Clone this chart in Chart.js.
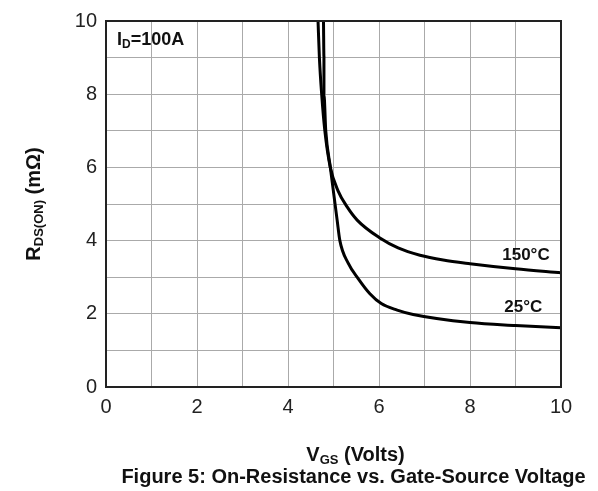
<!DOCTYPE html>
<html>
<head>
<meta charset="utf-8">
<title>On-Resistance vs. Gate-Source Voltage</title>
<script src="https://cdn.jsdelivr.net/npm/chart.js@4/dist/chart.umd.min.js"></script>
<style>
  html, body { margin: 0; padding: 0; background: #fff; }
  #wrap { width: 598px; height: 491px; }
</style>
</head>
<body>
<div id="wrap"><canvas id="rdsChart" width="598" height="491"></canvas></div>
<script>
// RDS(ON) vs VGS at ID = 100A
const vgs150 = [4.66, 4.69, 4.74, 4.81, 4.93, 5.10, 5.30, 5.52, 6.02, 6.42, 6.90, 7.41, 8.0, 9.0, 10.0];
const rds150 = [10, 9, 8, 7, 6.0, 5.36, 4.92, 4.56, 4.07, 3.80, 3.60, 3.47, 3.37, 3.23, 3.12];
const vgs25 = [4.78, 4.79, 4.79, 4.83, 4.93, 5.08, 5.14, 5.32, 5.55, 5.80, 6.05, 6.40, 6.75, 8.0, 9.0, 10.0];
const rds25 = [10, 9, 8, 7, 6.0, 4.56, 4.0, 3.39, 2.95, 2.55, 2.28, 2.10, 1.98, 1.76, 1.68, 1.62];

const xTickLabels = ["0", "2", "4", "6", "8", "10"];
const yTickLabels = ["0", "2", "4", "6", "8", "10"];

// curve tags, placed in data units
const curveTags = [
  { text: "150\u00B0C", x: 9.23, y: 3.6 },
  { text: "25\u00B0C", x: 9.17, y: 2.19 }
];

const FONT = "'Liberation Sans', Arial, sans-serif";

function toPoints(xs, ys) {
  return xs.map((x, i) => ({ x, y: ys[i] }));
}

// draws a run of [text, size, baselineShift] pieces, bold
function drawRuns(ctx, runs, x, y, align) {
  let total = 0;
  runs.forEach(r => {
    ctx.font = "bold " + r[1] + "px " + FONT;
    total += ctx.measureText(r[0]).width;
  });
  let cx = align === "center" ? x - total / 2 : x;
  runs.forEach(r => {
    ctx.font = "bold " + r[1] + "px " + FONT;
    ctx.fillText(r[0], cx, y + (r[2] || 0));
    cx += ctx.measureText(r[0]).width;
  });
}

const decorPlugin = {
  id: "decor",
  afterDatasetsDraw(chart) {
    const { ctx, chartArea: a, scales } = chart;
    ctx.save();
    // frame
    ctx.strokeStyle = "#222";
    ctx.lineWidth = 2;
    ctx.strokeRect(a.left, a.top, a.right - a.left, a.bottom - a.top);

    ctx.fillStyle = "#111";
    ctx.textBaseline = "middle";
    ctx.textAlign = "left";

    // ID label
    drawRuns(ctx, [["I", 18, 0], ["D", 12, 5], ["=100A", 18, 0]], a.left + 11, a.top + 19, "left");

    // curve tags
    curveTags.forEach(t => {
      drawRuns(ctx, [[t.text, 17, 0]], scales.x.getPixelForValue(t.x), scales.y.getPixelForValue(t.y), "center");
    });

    // x axis title
    drawRuns(ctx, [["V", 20, 0], ["GS", 13, 5], [" (Volts)", 20, 0]], (a.left + a.right) / 2 + 22, 455, "center");

    // caption
    drawRuns(ctx, [["Figure 5: On-Resistance vs. Gate-Source Voltage", 20, 0]], (a.left + a.right) / 2 + 20, 477, "center");

    // y axis title, rotated
    ctx.translate(34, (a.top + a.bottom) / 2);
    ctx.rotate(-Math.PI / 2);
    drawRuns(ctx, [["R", 20, 0], ["DS(ON)", 13, 5], [" (m\u03A9)", 20, 0]], 0, 0, "center");
    ctx.restore();
  }
};

new Chart(document.getElementById("rdsChart").getContext("2d"), {
  type: "line",
  data: {
    datasets: [
      {
        label: "150\u00B0C",
        data: toPoints(vgs150, rds150),
        borderColor: "#000",
        borderWidth: 3,
        pointRadius: 0,
        cubicInterpolationMode: "monotone",
        fill: false
      },
      {
        label: "25\u00B0C",
        data: toPoints(vgs25, rds25),
        borderColor: "#000",
        borderWidth: 3,
        pointRadius: 0,
        cubicInterpolationMode: "monotone",
        fill: false
      }
    ]
  },
  options: {
    responsive: false,
    devicePixelRatio: 1,
    animation: false,
    layout: { padding: { top: 21, right: 37, bottom: 0, left: 0 } },
    plugins: {
      legend: { display: false },
      tooltip: { enabled: false }
    },
    scales: {
      x: {
        type: "linear",
        min: 0,
        max: 10,
        afterFit(scale) { scale.height = 104; },
        ticks: {
          stepSize: 1,
          padding: 8,
          color: "#222",
          font: { family: FONT, size: 20 },
          maxRotation: 0,
          callback: v => (v % 2 === 0 ? xTickLabels[v / 2] : "")
        },
        grid: { color: "#aaaaaa", lineWidth: 1, drawTicks: false },
        border: { display: false }
      },
      y: {
        type: "linear",
        min: 0,
        max: 10,
        afterFit(scale) { scale.width = 106; },
        ticks: {
          stepSize: 1,
          padding: 9,
          color: "#222",
          font: { family: FONT, size: 20 },
          callback: v => (v % 2 === 0 ? yTickLabels[v / 2] : "")
        },
        grid: { color: "#aaaaaa", lineWidth: 1, drawTicks: false },
        border: { display: false }
      }
    }
  },
  plugins: [decorPlugin]
});
</script>
</body>
</html>
